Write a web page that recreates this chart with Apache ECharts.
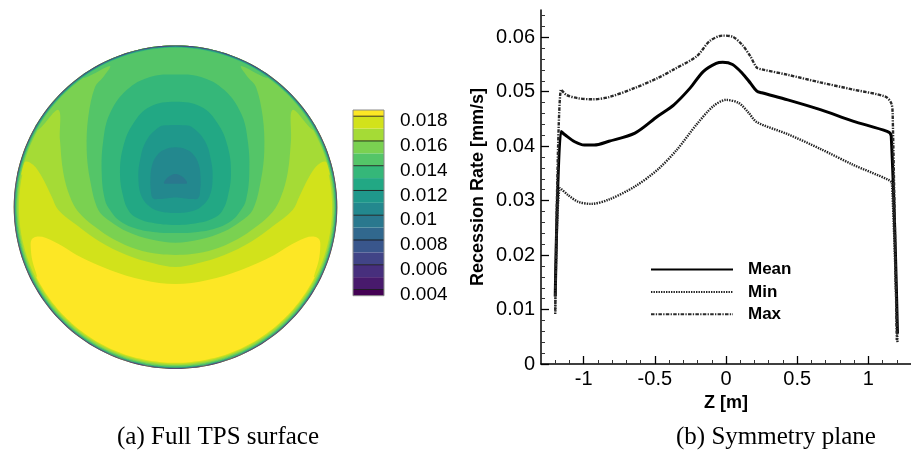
<!DOCTYPE html>
<html>
<head>
<meta charset="utf-8">
<script src="https://cdn.jsdelivr.net/npm/echarts@6/dist/echarts.min.js"></script>
<style>
  html, body { margin: 0; padding: 0; background: #fff; }
  #chart { width: 911px; height: 457px; }
</style>
</head>
<body>
<div id="chart"></div>
<script>
// ---------- (b) symmetry-plane profiles: [Z (m), recession rate (mm/s)] ----------
const meanRate = [
  [-1.2, 0.0124], [-1.16, 0.0427], [-1.132, 0.0421], [-1.063, 0.0408], [-0.995, 0.0402],
  [-0.926, 0.0402], [-0.823, 0.0409], [-0.64, 0.0424], [-0.48, 0.0455], [-0.366, 0.0476],
  [-0.251, 0.0507], [-0.16, 0.0537], [-0.069, 0.0552], [-0.023, 0.0554], [0.046, 0.055],
  [0.114, 0.0534], [0.171, 0.0516], [0.217, 0.0501], [0.251, 0.0498], [0.434, 0.0485],
  [0.663, 0.0467], [0.892, 0.0446], [1.132, 0.0427], [1.161, 0.0419], [1.205, 0.0056]
];
const minRate = [
  [-1.2, 0.0092], [-1.166, 0.0323], [-1.109, 0.031], [-1.04, 0.0298], [-0.949, 0.0294],
  [-0.823, 0.0302], [-0.64, 0.0326], [-0.48, 0.0357], [-0.343, 0.0394], [-0.206, 0.044],
  [-0.091, 0.0473], [0, 0.0485], [0.091, 0.0479], [0.16, 0.0461], [0.217, 0.0444],
  [0.434, 0.0422], [0.663, 0.0395], [0.892, 0.0366], [1.143, 0.0338], [1.166, 0.0332],
  [1.205, 0.004]
];
const maxRate = [
  [-1.2, 0.0098], [-1.159, 0.0504], [-1.12, 0.0494], [-1.04, 0.0488], [-0.937, 0.0486],
  [-0.823, 0.049], [-0.64, 0.0507], [-0.48, 0.0525], [-0.366, 0.0541], [-0.206, 0.0565],
  [-0.114, 0.0593], [-0.023, 0.0603], [0.046, 0.0601], [0.114, 0.0586], [0.171, 0.0565],
  [0.217, 0.0544], [0.251, 0.0541], [0.434, 0.0531], [0.663, 0.0517], [0.892, 0.0504],
  [1.12, 0.0491], [1.161, 0.0479], [1.171, 0.046], [1.2, 0.0044]
];
const seriesNames = ['Mean', 'Min', 'Max'];

const zTicks = [-1, -0.5, 0, 0.5, 1];
const zMinorTicks = [-1.2, -1.1, -0.9, -0.8, -0.7, -0.6, -0.4, -0.3, -0.2, -0.1,
  0.1, 0.2, 0.3, 0.4, 0.6, 0.7, 0.8, 0.9, 1.1, 1.2];
const rateTicks = [0, 0.01, 0.02, 0.03, 0.04, 0.05, 0.06];
const rateMinorTicks = [0.002, 0.004, 0.006, 0.008, 0.012, 0.014, 0.016, 0.018,
  0.022, 0.024, 0.026, 0.028, 0.032, 0.034, 0.036, 0.038, 0.042, 0.044, 0.046, 0.048,
  0.052, 0.054, 0.056, 0.058, 0.062, 0.064];

// ---------- (a) full TPS surface: contour bands ----------
const bandEdges = [0.0035, 0.004, 0.005, 0.006, 0.007, 0.008, 0.009, 0.01, 0.011,
  0.012, 0.013, 0.014, 0.015, 0.016, 0.017, 0.018, 0.0185];
const bandColors = ['#440154', '#481a6c', '#472f7d', '#414487', '#39568c', '#31688e',
  '#2a788e', '#23888e', '#1f988b', '#22a884', '#35b779', '#54c568', '#7ad151',
  '#a5db36', '#d2e21b', '#fde725'];
const colorbarTicks = [0.004, 0.006, 0.008, 0.01, 0.012, 0.014, 0.016, 0.018];
const colorbarLabels = ['0.004', '0.006', '0.008', '0.01', '0.012', '0.014', '0.016', '0.018'];

// Iso-lines in disk coordinates (u to the right, v upward, rim at radius 1).
// Only the left half (u <= 0) is stored; the field is mirror-symmetric about u = 0.
// 0.018: edge of the high-rate lower region, from the centre line out and down the left side
const iso018 = [[0, -0.475], [-0.199, -0.45], [-0.405, -0.388], [-0.611, -0.295], [-0.7, -0.24],
  [-0.8, -0.19], [-0.86, -0.182], [-0.889, -0.2], [-0.895, -0.24], [-0.885, -0.33], [-0.855, -0.43]];
// 0.017 .. 0.015: open lines, rim -> tip -> down round to the centre line
const iso017 = [[-0.965, 0.2], [-0.93, 0.28], [-0.88, 0.262], [-0.827, 0.189], [-0.765, 0.065],
  [-0.724, -0.017], [-0.611, -0.11], [-0.467, -0.213], [-0.302, -0.295], [-0.137, -0.347], [0, -0.37]];
const iso016 = [[-0.845, 0.48], [-0.724, 0.601], [-0.714, 0.415], [-0.693, 0.21], [-0.652, 0.065],
  [-0.6, -0.03], [-0.5, -0.12], [-0.38, -0.2], [-0.24, -0.26], [-0.1, -0.29], [0, -0.295]];
const iso015 = [[-0.56, 0.8], [-0.405, 0.873], [-0.45, 0.8], [-0.497, 0.745], [-0.539, 0.56],
  [-0.549, 0.354], [-0.528, 0.168], [-0.477, -0.017], [-0.4, -0.09], [-0.3, -0.15],
  [-0.15, -0.2], [0, -0.22]];
// 0.014 .. 0.010: closed lines, top of centre line -> left side -> bottom of centre line
const iso014 = [[0, 0.82], [-0.158, 0.805], [-0.302, 0.724], [-0.405, 0.58], [-0.446, 0.415],
  [-0.456, 0.209], [-0.436, 0.045], [-0.405, -0.017], [-0.35, -0.08], [-0.25, -0.13],
  [-0.12, -0.155], [0, -0.16]];
const iso013 = [[0, 0.652], [-0.158, 0.621], [-0.261, 0.518], [-0.323, 0.374], [-0.343, 0.209],
  [-0.323, 0.065], [-0.292, -0.017], [-0.25, -0.06], [-0.15, -0.095], [0, -0.11]];
const iso012 = [[0, 0.508], [-0.05, 0.506], [-0.096, 0.498], [-0.178, 0.415], [-0.219, 0.292],
  [-0.229, 0.168], [-0.209, 0.065], [-0.158, 0.003], [-0.1, -0.025], [0, -0.036]];
const iso011 = [[0, 0.37], [-0.07, 0.355], [-0.115, 0.32], [-0.145, 0.26], [-0.155, 0.18],
  [-0.152, 0.1], [-0.14, 0.055], [-0.1, 0.05], [-0.05, 0.055], [0, 0.06]];
const iso010 = [[0, 0.205], [-0.024, 0.199], [-0.055, 0.178], [-0.071, 0.148], [-0.04, 0.145], [0, 0.145]];

// Thin boundary layer along the rim: [inner r, outer r, from deg, to deg, band lower edge]
const rimLayers = [
  [0.968, 0.978, 168, 372, 0.016],
  [0.976, 0.984, 150, 390, 0.015],
  [0.982, 0.988, 125, 415, 0.014],
  [0.986, 0.991, 0, 360, 0.013],
  [0.99, 0.994, 0, 360, 0.011],
  [0.993, 0.997, 0, 360, 0.008],
  [0.996, 1.0, 0, 360, 0.005]
];

// ---------- geometry helpers ----------
const SANS = 'Liberation Sans, Arial, Helvetica, sans-serif';
const SERIF = 'Liberation Serif, Times New Roman, serif';

function bandColor(lo) {
  const i = bandEdges.findIndex(e => Math.abs(e - lo) < 1e-9);
  return bandColors[i];
}
function arc(r, a0, a1) {
  const n = Math.max(2, Math.ceil(Math.abs(a1 - a0) / 2));
  const pts = [];
  for (let i = 0; i <= n; i++) {
    const a = (a0 + (a1 - a0) * i / n) * Math.PI / 180;
    pts.push([r * Math.cos(a), r * Math.sin(a)]);
  }
  return pts;
}
const flip = pts => pts.map(([u, v]) => [-u, v]);
const angleOf = ([u, v]) => Math.atan2(v, u) * 180 / Math.PI;

function openRegion(half) {
  const a = angleOf(half[0]);
  return arc(1, 180 - a, a).concat(half, flip(half).reverse().slice(1));
}
function closedRegion(half) {
  return half.concat(flip(half).reverse().slice(1, -1));
}
function lowerRegion(half) {
  const left = half.slice().reverse();
  const right = flip(half).slice(1);
  const aL = angleOf(half[half.length - 1]);
  const aR = angleOf(right[right.length - 1]);
  return left.concat(right, arc(0.962, aR, aL));
}
function annulus(r0, r1, a0, a1) {
  return arc(r1, a0, a1).concat(arc(r0, a1, a0));
}

const diskShapes = [
  { pts: arc(1, 0, 360), color: bandColor(0.017), smooth: 0 },
  { pts: lowerRegion(iso018), color: bandColor(0.018), smooth: 0.35 },
  { pts: openRegion(iso017), color: bandColor(0.016), smooth: 0.35 },
  { pts: openRegion(iso016), color: bandColor(0.015), smooth: 0.35 },
  { pts: openRegion(iso015), color: bandColor(0.014), smooth: 0.35 },
  { pts: closedRegion(iso014), color: bandColor(0.013), smooth: 0.4 },
  { pts: closedRegion(iso013), color: bandColor(0.012), smooth: 0.4 },
  { pts: closedRegion(iso012), color: bandColor(0.011), smooth: 0.4 },
  { pts: closedRegion(iso011), color: bandColor(0.01), smooth: 0.4 },
  { pts: closedRegion(iso010), color: bandColor(0.009), smooth: 0.4 }
].concat(rimLayers.map(([r0, r1, a0, a1, lo]) => ({ pts: annulus(r0, r1, a0, a1), color: bandColor(lo), smooth: 0 })));

const colorbarBands = bandEdges.slice(0, -1).map((lo, i) => [lo, bandEdges[i + 1]]);

const chart = echarts.init(document.getElementById('chart'), null, { renderer: 'canvas' });

const hiddenAxis = (grid, min, max) => ({
  gridIndex: grid, type: 'value', min, max, show: false,
  axisLine: { show: false }, axisTick: { show: false }, axisLabel: { show: false }, splitLine: { show: false }
});

const option = {
  animation: false,
  backgroundColor: '#fff',
  grid: [
    { left: 13.7, top: 45.4, width: 323.6, height: 323.6 },
    { left: 353, top: 110, width: 31, height: 185.7 },
    { left: 541, top: 10, right: -9, bottom: 93 }
  ],
  xAxis: [
    hiddenAxis(0, -1, 1),
    hiddenAxis(1, 0, 1),
    {
      gridIndex: 2, type: 'value', min: -1.3, max: 1.3, position: 'bottom',
      axisLine: { onZero: false, lineStyle: { color: '#000', width: 1.5 } },
      axisTick: { inside: true, length: 8, customValues: zTicks, lineStyle: { color: '#000', width: 1.3 } },
      axisLabel: { customValues: zTicks, color: '#000', fontSize: 20, fontFamily: SANS, margin: 5 },
      splitLine: { show: false },
      name: 'Z [m]', nameLocation: 'middle', nameGap: 28,
      nameTextStyle: { color: '#000', fontSize: 18, fontWeight: 'bold', fontFamily: SANS }
    },
    {
      gridIndex: 2, type: 'value', min: -1.3, max: 1.3, position: 'bottom',
      axisLine: { show: false, onZero: false },
      axisTick: { inside: true, length: 4, customValues: zMinorTicks, lineStyle: { color: '#333', width: 1 } },
      axisLabel: { show: false }, splitLine: { show: false }
    }
  ],
  yAxis: [
    hiddenAxis(0, -1, 1),
    {
      gridIndex: 1, type: 'value', min: 0.0035, max: 0.0185, position: 'right',
      axisLine: { show: false, onZero: false }, axisTick: { show: false }, splitLine: { show: false },
      axisLabel: {
        customValues: colorbarTicks, margin: 16, color: '#000', fontSize: 19, fontFamily: SANS,
        verticalAlign: 'top', lineHeight: 10,
        formatter: v => colorbarLabels[colorbarTicks.findIndex(t => Math.abs(t - v) < 1e-9)]
      }
    },
    {
      gridIndex: 2, type: 'value', min: 0, max: 0.065, position: 'left',
      axisLine: { onZero: false, lineStyle: { color: '#000', width: 1.5 } },
      axisTick: { inside: true, length: 8, customValues: rateTicks, lineStyle: { color: '#000', width: 1.3 } },
      axisLabel: { customValues: rateTicks, color: '#000', fontSize: 20, fontFamily: SANS, margin: 6 },
      splitLine: { show: false },
      name: 'Recession Rate [mm/s]', nameLocation: 'middle', nameGap: 54,
      nameTextStyle: { color: '#000', fontSize: 18, fontWeight: 'bold', fontFamily: SANS }
    },
    {
      gridIndex: 2, type: 'value', min: 0, max: 0.065, position: 'left',
      axisLine: { show: false, onZero: false },
      axisTick: { inside: true, length: 4, customValues: rateMinorTicks, lineStyle: { color: '#333', width: 1 } },
      axisLabel: { show: false }, splitLine: { show: false }
    }
  ],
  legend: {
    data: seriesNames, orient: 'vertical', left: 650, top: 261, padding: 0,
    itemWidth: 82, itemHeight: 14, itemGap: 5.4,
    itemStyle: { opacity: 0 },
    textStyle: { color: '#000', fontSize: 17, fontWeight: 'bold', fontFamily: SANS, padding: [0, 0, 0, 10] }
  },
  graphic: [
    { type: 'text', left: 117, top: 425, style: { text: '(a) Full TPS surface', font: '25px ' + SERIF, fill: '#000' } },
    { type: 'text', left: 676, top: 425, style: { text: '(b) Symmetry plane', font: '25px ' + SERIF, fill: '#000' } }
  ],
  series: [
    {
      type: 'custom', name: 'surface', xAxisIndex: 0, yAxisIndex: 0, silent: true,
      data: diskShapes.map(() => [0, 0]),
      renderItem: (params, api) => {
        const s = diskShapes[params.dataIndex];
        return { type: 'polygon', shape: { points: s.pts.map(p => api.coord(p)), smooth: s.smooth },
          style: { fill: s.color } };
      }
    },
    {
      type: 'custom', name: 'colorbar', xAxisIndex: 1, yAxisIndex: 1, silent: true,
      data: colorbarBands.map(b => [0, b[0]]),
      renderItem: (params, api) => {
        const [lo, hi] = colorbarBands[params.dataIndex];
        const p0 = api.coord([0, hi]);
        const p1 = api.coord([1, lo]);
        return { type: 'rect', shape: { x: p0[0], y: p0[1], width: p1[0] - p0[0], height: p1[1] - p0[1] },
          style: { fill: bandColors[params.dataIndex] } };
      }
    },
    {
      type: 'custom', name: 'colorbarLines', xAxisIndex: 1, yAxisIndex: 1, silent: true,
      data: colorbarTicks.map(t => [0, t]),
      renderItem: (params, api) => {
        const t = colorbarTicks[params.dataIndex];
        const a = api.coord([0, t]);
        const b = api.coord([1, t]);
        return { type: 'line', shape: { x1: a[0], y1: a[1], x2: b[0], y2: b[1] },
          style: { stroke: 'rgba(20,20,20,0.85)', lineWidth: 1 } };
      }
    },
    {
      type: 'custom', name: 'colorbarFrame', xAxisIndex: 1, yAxisIndex: 1, silent: true,
      data: [[0, bandEdges[0]]],
      renderItem: (params, api) => {
        const p0 = api.coord([0, bandEdges[bandEdges.length - 1]]);
        const p1 = api.coord([1, bandEdges[0]]);
        return { type: 'rect', shape: { x: p0[0], y: p0[1], width: p1[0] - p0[0], height: p1[1] - p0[1] },
          style: { fill: 'none', stroke: '#8a8a8a', lineWidth: 1 } };
      }
    },
    {
      type: 'line', name: 'Mean', xAxisIndex: 2, yAxisIndex: 2, data: meanRate,
      symbol: 'none', showSymbol: false, smooth: 0.3,
      lineStyle: { color: '#000', width: 3 }, itemStyle: { color: '#000' }
    },
    {
      type: 'line', name: 'Min', xAxisIndex: 2, yAxisIndex: 2, data: minRate,
      symbol: 'none', showSymbol: false, smooth: 0.3,
      lineStyle: { color: '#222', width: 2.4, type: [1.4, 1.1] }, itemStyle: { color: '#222' }
    },
    {
      type: 'line', name: 'Max', xAxisIndex: 2, yAxisIndex: 2, data: maxRate,
      symbol: 'none', showSymbol: false, smooth: 0.3,
      lineStyle: { color: '#2a2a2a', width: 2.4, type: [3.5, 1.3, 1.3, 1.3] }, itemStyle: { color: '#2a2a2a' }
    }
  ]
};

chart.setOption(option);
</script>
</body>
</html>
